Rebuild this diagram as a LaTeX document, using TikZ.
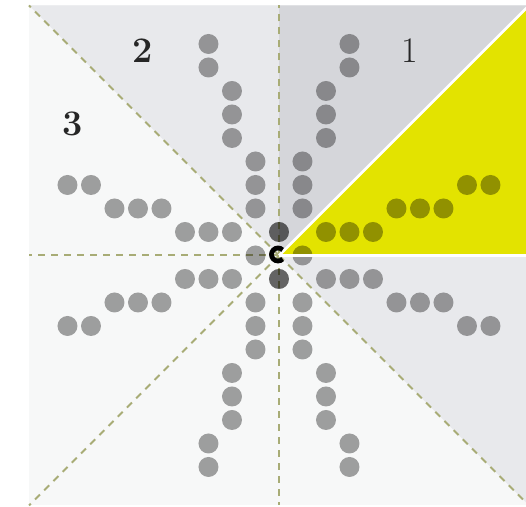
\documentclass[tikz,border=0pt]{standalone}
\usepackage{tikz}

\definecolor{sectoryellow}{RGB}{227,227,0}
\definecolor{sectordark}{RGB}{213,214,218}
\definecolor{sectormid}{RGB}{232,233,236}
\definecolor{sectorlight}{RGB}{247,248,248}
\definecolor{rayolive}{RGB}{168,172,118}

\begin{document}
\begin{tikzpicture}[x=0.5pt, y=0.5pt,
    ray/.style={rayolive, line width=1pt, dash pattern=on 3.5pt off 3pt},
    cut/.style={white, line width=1.3pt},
    dot/.style={fill=black, fill opacity=0.36},
    sectorlabel/.style={font=\fontsize{18}{20}\selectfont, text=black!85}]
    \useasboundingbox (-279,-251.5) rectangle (247,255.5);

    % Corners and mid points of the square
    \coordinate (o) at (0,0);
    \coordinate (e) at (250,0);
    \coordinate (ne) at (250,250);
    \coordinate (n) at (0,250);
    \coordinate (nw) at (-250,250);
    \coordinate (w) at (-250,0);
    \coordinate (sw) at (-250,-250);
    \coordinate (s) at (0,-250);
    \coordinate (se) at (250,-250);

    % Sectors
    \fill[sectorlight] (sw) rectangle (ne);
    \fill[sectoryellow] (o) -- (e) -- (ne) -- cycle;
    \fill[sectordark] (o) -- (ne) -- (n) -- cycle;
    \fill[sectormid] (o) -- (n) -- (nw) -- cycle;
    \fill[sectormid] (o) -- (se) -- (e) -- cycle;

    % Dashed rays
    \draw[ray] (o) -- (n);
    \draw[ray] (o) -- (nw);
    \draw[ray] (o) -- (w);
    \draw[ray] (o) -- (sw);
    \draw[ray] (o) -- (s);
    \draw[ray] (o) -- (se);

    % Arms of dots, one quarter turn apart
    \foreach \r in {0,90,180,270}{
        \begin{scope}[rotate=\r]
            \foreach \i/\j in {0/1,1/2,1/3,1/4,2/5,2/6,2/7,3/8,3/9,
                               -1/2,-1/3,-1/4,-2/5,-2/6,-2/7,-3/8,-3/9}
                \fill[dot] (23.5*\i,23.5*\j) circle (10);
        \end{scope}
    }
    \fill[dot] (0,23.5) circle (10);
    \fill[dot] (0,-23.5) circle (10);

    % White edges of the yellow sector
    \draw[cut] (o) -- (e);
    \draw[cut] (o) -- (ne);

    % Mark at the centre
    \draw[black, line width=2.4pt] ([shift={(45:6.5)}]-1,1) arc[start angle=45, end angle=315, radius=6.5];

    % Sector numbers
    \node[sectorlabel] (lab1) at (131,205) {1};
    \node[sectorlabel] (lab2) at (-136,205) {\textbf{2}};
    \node[sectorlabel] (lab3) at (-206,132) {\textbf{3}};
\end{tikzpicture}
\end{document}
